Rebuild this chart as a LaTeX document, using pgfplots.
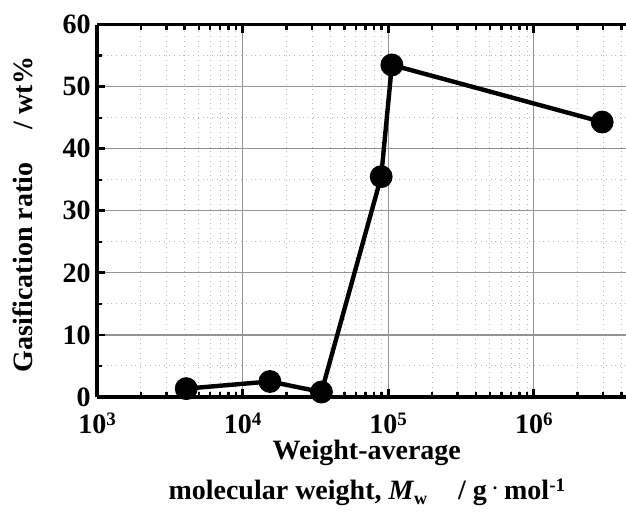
\documentclass[border=0pt]{standalone}
\usepackage{fontspec}
\setmainfont{Liberation Serif}
\usepackage{pgfplots}
\pgfplotsset{compat=1.18}
\newcommand{\mysup}[1]{\raisebox{4pt}{\fontsize{9.5}{9.5}\selectfont #1}}
\begin{document}
\begin{tikzpicture}
\begin{axis}[
  scale only axis,
  width=264.5pt, height=186.2pt,
  xmode=log,
  xmin=1e3, xmax=4.3e6,
  ymin=0, ymax=60,
  axis y line*=left,
  y axis line style={-},
  axis line style={line width=1.8pt},
  xtick={1e3,1e4,1e5,1e6},
  minor xtick={2e3,3e3,4e3,5e3,6e3,7e3,8e3,9e3,2e4,3e4,4e4,5e4,6e4,7e4,8e4,9e4,2e5,3e5,4e5,5e5,6e5,7e5,8e5,9e5,2e6,3e6,4e6},
  xticklabels={10\mysup{3},10\mysup{4},10\mysup{5},10\mysup{6}},
  ytick={0,10,20,30,40,50,60},
  minor ytick={5,15,25,35,45,55},
  xmajorgrids, ymajorgrids, xminorgrids, yminorgrids,
  major grid style={gray!85, line width=0.6pt},
  minor grid style={gray!55, dotted, line width=0.5pt},
  tick align=inside,
  major tick length=4pt, minor tick length=2.5pt,
  major tick style={black, line width=1.4pt},
  minor tick style={black, line width=1.2pt},
  /pgf/number format/assume math mode=true,
  tick label style={font=\bfseries\fontsize{14}{14}\selectfont},
  xticklabel style={inner sep=0pt, anchor=north, yshift=-7.6pt},
  yticklabel style={inner sep=0pt, anchor=east, xshift=-3pt},
  xlabel={Weight-average\\molecular weight, \textit{M}\raisebox{-0.35ex}{\fontsize{9}{9}\selectfont w}\hspace{1.1em}/ g\,\raisebox{0.3ex}{$\mathbf{\cdot}$}\,mol\mysup{-1}},
  xlabel style={at={(axis description cs:0.51,0)}, anchor=north, inner sep=0pt, yshift=-21.5pt, align=center, font=\bfseries\fontsize{14}{20}\selectfont},
  ylabel={Gasification ratio\hspace{1.2em}/ wt\%},
  ylabel style={at={(axis description cs:-0.14,0.49)}, anchor=center, inner sep=0pt, font=\bfseries\fontsize{14}{14}\selectfont},
  clip=false,
]
\addplot[black, line width=2.2pt, mark=*, mark size=4.6pt, mark options={solid, fill=black}]
coordinates {
(4100,1.35)
(15400,2.5)
(34800,0.8)
(89500,35.5)
(106000,53.5)
(2950000,44.3)
};
\end{axis}
\pgfresetboundingbox
\path (-48.5pt,-59pt) rectangle (264.5pt,198.5pt);
\end{tikzpicture}
\end{document}
